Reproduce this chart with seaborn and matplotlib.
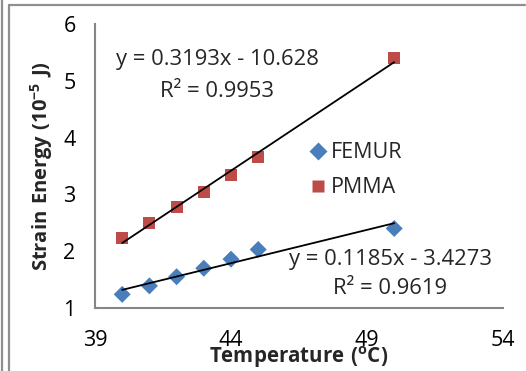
import numpy as np
import pandas as pd
import seaborn as sns
import matplotlib.pyplot as plt
from matplotlib.lines import Line2D

temperature = [40, 41, 42, 43, 44, 45, 50]
femur_energy = [1.24, 1.39, 1.55, 1.70, 1.86, 2.03, 2.40]
pmma_energy = [2.24, 2.50, 2.77, 3.04, 3.35, 3.66, 5.41]
series_names = ['FEMUR', 'PMMA']
x_ticks = [39, 44, 49, 54]
y_ticks = [1, 2, 3, 4, 5, 6]

df = pd.DataFrame({
    'Temperature': temperature * 2,
    'Energy': femur_energy + pmma_energy,
    'Material': [series_names[0]] * len(temperature) + [series_names[1]] * len(temperature),
})

sns.set_theme(style='white')
plt.rcParams['font.family'] = ['Open Sans', 'DejaVu Sans']
plt.rcParams['mathtext.fontset'] = 'custom'
plt.rcParams['mathtext.rm'] = 'Open Sans'
plt.rcParams['mathtext.bf'] = 'Open Sans:bold'

fig = plt.figure(figsize=(5.26, 3.71), dpi=100, facecolor='white')
ax = fig.add_axes([0.1806, 0.1698, 0.7757, 0.7655])

colours = {'FEMUR': '#4a7ebb', 'PMMA': '#be4b48'}
sns.scatterplot(data=df, x='Temperature', y='Energy', hue='Material', style='Material',
                markers={'FEMUR': 'D', 'PMMA': 's'}, palette=colours, s=75,
                edgecolor='none', ax=ax, zorder=3)

# linear trendlines
for vals in [femur_energy, pmma_energy]:
    sns.regplot(x=temperature, y=vals, scatter=False, ci=None, ax=ax,
                line_kws={'color': 'black', 'lw': 1.3, 'zorder': 4})

ax.set_xlim(39, 54)
ax.set_ylim(1, 6)
ax.set_xticks(x_ticks)
ax.set_yticks(y_ticks)
ax.tick_params(axis='both', labelsize=15.5, colors='black', length=6, width=1.2,
               color='#868686', direction='out', pad=8)
ax.tick_params(axis='x', pad=10)
for side in ['top', 'right']:
    ax.spines[side].set_visible(False)
for side in ['left', 'bottom']:
    ax.spines[side].set_color('#868686')
    ax.spines[side].set_linewidth(1.5)

ax.set_xlabel(r'$\mathbf{Temperature\ (^{o}C)}$', fontsize=14.8, labelpad=-5)
ax.set_ylabel(r'$\mathbf{Strain\ Energy\ (10^{-5}\ J)}$', fontsize=14.5, labelpad=6)

# trendline equations
eq_size = 15.8
ax.text(0.30, 0.874, 'y = 0.3193x - 10.628', transform=ax.transAxes, fontsize=eq_size, ha='center', va='center')
ax.text(0.30, 0.762, 'R² = 0.9953', transform=ax.transAxes, fontsize=eq_size, ha='center', va='center')
ax.text(0.724, 0.172, 'y = 0.1185x - 3.4273', transform=ax.transAxes, fontsize=eq_size, ha='center', va='center')
ax.text(0.724, 0.07, 'R² = 0.9619', transform=ax.transAxes, fontsize=eq_size, ha='center', va='center')

leg = ax.legend(loc='center left', bbox_to_anchor=(0.52, 0.485), frameon=False, fontsize=15.5,
                handletextpad=0.1, labelspacing=0.65, handlelength=1.0, borderpad=0,
                borderaxespad=0, markerscale=1.0)

# outer frame lines
border = '#8f8f8f'
fig.add_artist(Line2D([1.5 / 526, 1.5 / 526], [0, 1], transform=fig.transFigure, color=border, lw=1.6))
fig.add_artist(Line2D([9 / 526, 9 / 526], [0, 1 - 5 / 371], transform=fig.transFigure, color=border, lw=1.6))
fig.add_artist(Line2D([9 / 526, 525 / 526], [1 - 5 / 371, 1 - 5 / 371], transform=fig.transFigure, color=border, lw=1.6))

fig.savefig('out.png', dpi=100)
